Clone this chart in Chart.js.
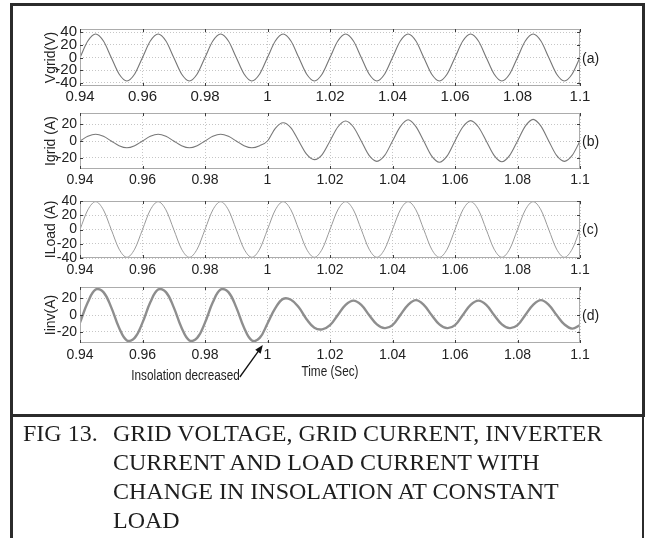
<!DOCTYPE html>
<html>
<head>
<meta charset="utf-8">
<title>Fig 13</title>
<script src="https://cdn.jsdelivr.net/npm/chart.js@4.4.0/dist/chart.umd.min.js"></script>
<style>
  body { margin: 0; background: #fff; }
  #page { position: relative; width: 646px; height: 538px; overflow: hidden; background: #fff; }
  #page canvas { position: absolute; left: 0; top: 0; }
  .frame { position: absolute; box-sizing: border-box; }
  #plotFrame { left: 10px; top: 3px; width: 635px; height: 414px; border: 3px solid #2b2b2b; }
  #capFrame { left: 10px; top: 414px; width: 634px; height: 130px; border-left: 3px solid #2b2b2b; border-right: 2px solid #2b2b2b; }
  .tag { position: absolute; left: 582px; font: 14px 'Liberation Sans', Arial, sans-serif; line-height: 16px; color: #222; }
  .caption { position: absolute; top: 419px; font: 24px 'Liberation Serif', 'Times New Roman', serif; line-height: 29px; color: #1e1e1e; white-space: nowrap; }
</style>
</head>
<body>
<div id="page">
  <div class="frame" id="plotFrame"></div>
  <div class="frame" id="capFrame"></div>
  <canvas id="cA" width="646" height="538"></canvas>
  <canvas id="cB" width="646" height="538"></canvas>
  <canvas id="cC" width="646" height="538"></canvas>
  <canvas id="cD" width="646" height="538"></canvas>
  <span class="tag" style="top:50px">(a)</span>
  <span class="tag" style="top:133px">(b)</span>
  <span class="tag" style="top:221px">(c)</span>
  <span class="tag" style="top:307px">(d)</span>
  <div class="caption" style="left:23px">FIG 13.</div>
  <div class="caption" style="left:113px">GRID VOLTAGE, GRID CURRENT, INVERTER<br>CURRENT AND LOAD CURRENT WITH<br>CHANGE IN INSOLATION AT CONSTANT<br>LOAD</div>
</div>
<script>
// sample instants (s), one every eighth of a 50 Hz cycle
const timeSec = [
  0.94, 0.9425, 0.945, 0.9475, 0.95, 0.9525, 0.955, 0.9575,
  0.96, 0.9625, 0.965, 0.9675, 0.97, 0.9725, 0.975, 0.9775,
  0.98, 0.9825, 0.985, 0.9875, 0.99, 0.9925, 0.995, 0.9975,
  1.0, 1.0025, 1.005, 1.0075, 1.01, 1.0125, 1.015, 1.0175,
  1.02, 1.0225, 1.025, 1.0275, 1.03, 1.0325, 1.035, 1.0375,
  1.04, 1.0425, 1.045, 1.0475, 1.05, 1.0525, 1.055, 1.0575,
  1.06, 1.0625, 1.065, 1.0675, 1.07, 1.0725, 1.075, 1.0775,
  1.08, 1.0825, 1.085, 1.0875, 1.09, 1.0925, 1.095, 1.0975,
  1.1
];

// grid voltage (V)
const vGrid = [
  0, 26, 37, 26, 0, -26, -37, -26,
  0, 26, 37, 26, 0, -26, -37, -26,
  0, 26, 37, 26, 0, -26, -37, -26,
  0, 26, 37, 26, 0, -26, -37, -26,
  0, 26, 37, 26, 0, -26, -37, -26,
  0, 26, 37, 26, 0, -26, -37, -26,
  0, 26, 37, 26, 0, -26, -37, -26,
  0, 26, 37, 26, 0, -26, -37, -26,
  0
];

// grid current (A) - rises when insolation drops at t = 1 s
const iGrid = [
  0, 5.5, 8, 5.5, 0, -5.5, -8, -5.5,
  0, 5.5, 8, 5.5, 0, -5.5, -8, -5.5,
  0, 5.5, 8, 5.5, 0, -5.5, -8, -5.5,
  0, 15, 21.5, 15.5, 0, -15.5, -22, -16,
  0, 16.5, 23.5, 16.5, 0, -17, -24, -17,
  0, 17, 25, 17, 0, -17.5, -25, -17.5,
  0, 16.5, 24, 16.5, 0, -17, -24.5, -17,
  0, 17.5, 25.5, 17.5, 0, -17, -24, -17,
  0
];

// load current (A)
const iLoad = [
  0, 27.5, 39, 27.5, 0, -27.5, -39, -27.5,
  0, 27.5, 39, 27.5, 0, -27.5, -39, -27.5,
  0, 27.5, 39, 27.5, 0, -27.5, -39, -27.5,
  0, 27.5, 39, 27.5, 0, -27.5, -39, -27.5,
  0, 27.5, 39, 27.5, 0, -27.5, -39, -27.5,
  0, 27.5, 39, 27.5, 0, -27.5, -39, -27.5,
  0, 27.5, 39, 27.5, 0, -27.5, -39, -27.5,
  0, 27.5, 39, 27.5, 0, -27.5, -39, -27.5,
  0
];

// inverter current (A)
const iInv = [
  -9, 15, 30, 27, 9, -15, -30, -27,
  -9, 15, 30, 27, 9, -15, -30, -27,
  -9, 15, 30, 27, 9, -15, -30, -27,
  -10, 8, 19, 18, 9, -5, -15, -17,
  -12, 0, 12, 17, 12, 0, -11, -15.5,
  -12, 0, 12, 17.5, 12, 0, -11, -15.5,
  -12, 0, 12, 17, 12, 0, -11, -15.5,
  -12, 0, 12, 17.5, 12, 0, -11, -16,
  -12
];

const timeTicks = [0.94, 0.96, 0.98, 1.0, 1.02, 1.04, 1.06, 1.08, 1.1];
const timeTickLabels = ['0.94', '0.96', '0.98', '1', '1.02', '1.04', '1.06', '1.08', '1.1'];
const vTicks = [40, 20, 0, -20, -40];
const iGridTicks = [20, 0, -20];
const iLoadTicks = [40, 20, 0, -20, -40];
const iInvTicks = [20, 0, -20];

const noteTime = 0.9985;
const noteText = 'Insolation decreased';
const timeTitle = 'Time (Sec)';

const sans = "'Liberation Sans', Arial, sans-serif";

// light box round each plot with small inward tick marks
const plotBox = {
  id: 'plotBox',
  afterDraw(chart) {
    const {ctx, chartArea: a, scales: {x, y}} = chart;
    ctx.save();
    ctx.strokeStyle = '#acacac';
    ctx.lineWidth = 1;
    ctx.strokeRect(a.left + 0.5, a.top + 0.5, a.width - 1, a.height - 1);
    ctx.strokeStyle = '#3c3c3c';
    ctx.beginPath();
    x.ticks.forEach(t => {
      const px = Math.round(x.getPixelForValue(t.value)) + 0.5;
      ctx.moveTo(px, a.top); ctx.lineTo(px, a.top + 3);
      ctx.moveTo(px, a.bottom); ctx.lineTo(px, a.bottom - 3);
    });
    y.ticks.forEach(t => {
      const py = Math.round(y.getPixelForValue(t.value)) + 0.5;
      ctx.moveTo(a.left, py); ctx.lineTo(a.left + 3, py);
      ctx.moveTo(a.right, py); ctx.lineTo(a.right - 3, py);
    });
    ctx.stroke();
    ctx.restore();
  }
};

// condensed text: squeeze horizontally round the anchor point
function narrowText(ctx, text, x, y, align) {
  ctx.save();
  ctx.translate(x, y);
  ctx.scale(0.84, 1);
  ctx.textAlign = align;
  ctx.textBaseline = 'middle';
  ctx.fillText(text, 0, 0);
  ctx.restore();
}

// arrow pointing at the instant the insolation drops, plus the time axis title
const insolationNote = {
  id: 'insolationNote',
  afterDraw(chart) {
    const {ctx, chartArea: a, scales: {x, y}} = chart;
    const tipX = x.getPixelForValue(noteTime);
    const tipY = y.getPixelForValue(y.min) + 2;
    const tailX = tipX - 23, tailY = tipY + 32;
    const ang = Math.atan2(tipY - tailY, tipX - tailX);
    ctx.save();
    ctx.strokeStyle = '#111';
    ctx.fillStyle = '#111';
    ctx.lineWidth = 1.3;
    ctx.beginPath();
    ctx.moveTo(tailX, tailY);
    ctx.lineTo(tipX - 6 * Math.cos(ang), tipY - 6 * Math.sin(ang));
    ctx.stroke();
    ctx.beginPath();
    ctx.moveTo(tipX, tipY);
    ctx.lineTo(tipX - 9 * Math.cos(ang - 0.38), tipY - 9 * Math.sin(ang - 0.38));
    ctx.lineTo(tipX - 9 * Math.cos(ang + 0.38), tipY - 9 * Math.sin(ang + 0.38));
    ctx.closePath();
    ctx.fill();
    ctx.fillStyle = '#222';
    ctx.font = '14px ' + sans;
    narrowText(ctx, noteText, tailX, tailY - 1, 'right');
    narrowText(ctx, timeTitle, (a.left + a.right) / 2, a.bottom + 29, 'center');
    ctx.restore();
  }
};

function panel(canvasId, p) {
  const tickFont = {family: sans, size: p.tickSize};
  return new Chart(document.getElementById(canvasId), {
    type: 'line',
    data: {
      datasets: [{
        data: timeSec.map((t, i) => ({x: t, y: p.values[i]})),
        borderColor: p.color,
        borderWidth: p.width,
        pointRadius: 0,
        cubicInterpolationMode: p.smooth ? 'default' : 'monotone',
        tension: p.smooth || 0,
        fill: false
      }]
    },
    options: {
      responsive: false,
      animation: false,
      events: [],
      layout: {padding: {left: 0, right: 66, top: p.top, bottom: 538 - p.bottom - p.xAxisH}},
      plugins: {legend: {display: false}, tooltip: {enabled: false}},
      scales: {
        x: {
          type: 'linear',
          min: 0.94,
          max: 1.1,
          afterBuildTicks: s => { s.ticks = timeTicks.map(v => ({value: v})); },
          afterFit: s => { s.height = p.xAxisH; },
          ticks: {
            autoSkip: false, maxRotation: 0, padding: p.xPad, color: '#222', font: tickFont,
            callback: (v, i) => timeTickLabels[i]
          },
          grid: {color: '#c6c6c6', lineWidth: 1, drawTicks: false},
          border: {display: false, dash: [1, 2]}
        },
        y: {
          min: p.min,
          max: p.max,
          afterBuildTicks: s => { s.ticks = p.ticks.map(v => ({value: v})); },
          afterFit: s => { s.width = 80; },
          ticks: {autoSkip: false, padding: 3, color: '#222', font: tickFont},
          grid: {color: '#c6c6c6', lineWidth: 1, drawTicks: false},
          border: {display: false, dash: [1, 2]},
          title: {
            display: true, text: p.yTitle, color: '#222',
            font: {family: sans, size: 14}, padding: {top: 42.6, bottom: 0}
          }
        }
      }
    },
    plugins: p.extra ? [plotBox, p.extra] : [plotBox]
  });
}

panel('cA', {values: vGrid, ticks: vTicks, min: -45, max: 45, top: 29, bottom: 86,
  xAxisH: 22, xPad: 2, tickSize: 15, yTitle: 'Vgrid(V)', color: '#767676', width: 1.1});
panel('cB', {values: iGrid, ticks: iGridTicks, min: -33, max: 33, top: 113, bottom: 169,
  xAxisH: 22, xPad: 2.6, tickSize: 14, yTitle: 'Igrid (A)', color: '#787878', width: 1.1});
panel('cC', {values: iLoad, ticks: iLoadTicks, min: -40, max: 40, top: 201, bottom: 258,
  xAxisH: 22, xPad: 3.6, tickSize: 14, yTitle: 'ILoad (A)', color: '#9a9a9a', width: 1});
panel('cD', {values: iInv, ticks: iInvTicks, min: -33, max: 33, top: 287, bottom: 343,
  xAxisH: 40, xPad: 3.6, tickSize: 14, yTitle: 'Iinv(A)', smooth: 0.4,
  color: '#8e8e8e', width: 2.4, extra: insolationNote});
</script>
</body>
</html>
